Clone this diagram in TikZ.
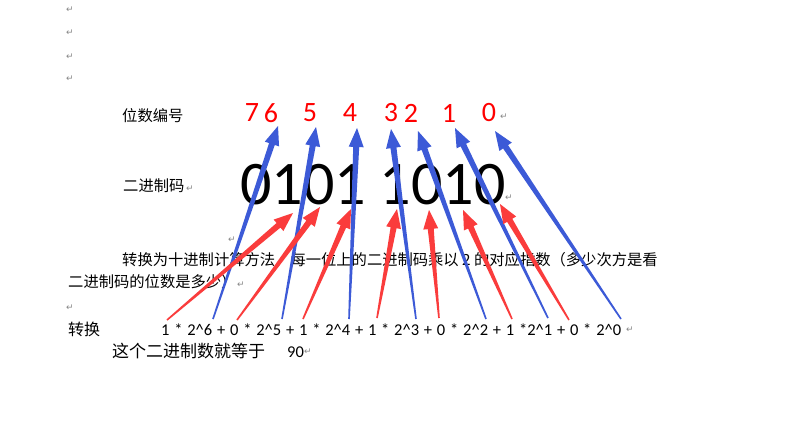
\documentclass[tikz,border=0pt]{standalone}
\usepackage{fontspec}
\setmainfont{Carlito}
\newfontfamily\cjk{Noto Sans CJK SC}
\newfontfamily\dvfont{DejaVu Sans}
\usetikzlibrary{calc}
\definecolor{arrblue}{RGB}{60,90,215}
\definecolor{arrred}{RGB}{250,60,60}
\definecolor{pmark}{RGB}{135,135,135}
\newcommand\mytaper[3]{%
  \coordinate (tmpH) at ($(#2)!19pt!(#1)$);
  \fill[#3] ($(#1)!0.8pt!90:(#2)$) -- ($(tmpH)!3pt!-90:(#1)$) -- ($(tmpH)!7.5pt!-90:(#1)$) -- (#2)
    -- ($(tmpH)!7.5pt!90:(#1)$) -- ($(tmpH)!3pt!90:(#1)$) -- ($(#1)!0.8pt!-90:(#2)$) -- cycle;}
\newcommand\mycaret{\textasciicircum}
\tikzset{
  pm/.style={font=\dvfont\fontsize{9}{9}\selectfont, text=pmark, inner sep=0pt},
  cn/.style={font=\cjk\fontsize{15.3}{18}\selectfont, inner sep=0pt, anchor=west},
  rd/.style={text=red, font=\fontsize{28}{30}\selectfont, inner sep=0pt},
}
\begin{document}
\begin{tikzpicture}[x=1pt,y=-1pt]
\path[fill=white,use as bounding box] (0,0) rectangle (798,447);
% paragraph marks
\node[pm] (p1) at (70,10) {↵};
\node[pm] (p2) at (70,33) {↵};
\node[pm] (p3) at (70,57) {↵};
\node[pm] (p4) at (70,79) {↵};
\node[pm] (p5) at (504,117) {↵};
\node[pm] (p6) at (190,189) {↵};
\node[pm] (p7) at (509,198) {↵};
\node[pm] (p8) at (232,240) {↵};
\node[pm] (p9) at (241,285) {↵};
\node[pm] (p10) at (70,308) {↵};
\node[pm] (p11) at (630,330) {↵};
\node[pm] (p12) at (308,352) {↵};
% labels
\node[cn] (lab1) at (122,116) {位数编号};
\node[cn] (lab2) at (123,186) {二进制码};
% red digit numbers
\node[rd] (d7) at (252,113) {7};
\node[rd] (d6) at (271,113) {6};
\node[rd] (d5) at (310,113) {5};
\node[rd] (d4) at (350,113) {4};
\node[rd] (d3) at (391,113) {3};
\node[rd] (d2) at (411,113) {2};
\node[rd] (d1) at (449,113) {1};
\node[rd] (d0) at (489,113) {0};
% big binary
\node[inner sep=0pt, anchor=west, font=\fontsize{62}{62}\selectfont] (bin) at (240,185) {0101 1010};
% paragraph
\node[cn] (para1) at (122,260) {转换为十进制计算方法，每一位上的二进制码乘以 2 的对应指数（多少次方是看};
\node[cn] (para2) at (68,282) {二进制码的位数是多少）};
\node[cn, font=\cjk\fontsize{16}{18}\selectfont] (conv) at (68,329) {转换};
\node[inner sep=0pt, anchor=west, font=\fontsize{16.5}{18}\selectfont] (form) at (161,330)
  {\spaceskip=4.8pt\relax 1 * 2\mycaret 6 + 0 * 2\mycaret 5 + 1 * 2\mycaret 4 + 1 * 2\mycaret 3 + 0 * 2\mycaret 2 + 1 *2\mycaret 1 + 0 * 2\mycaret 0};
\node[cn, font=\cjk\fontsize{17}{19}\selectfont] (res) at (112,351) {这个二进制数就等于};
\node[inner sep=0pt, anchor=west, font=\fontsize{16.5}{18}\selectfont] (ninety) at (287,352) {90};
% arrow end points
\coordinate (b6s) at (213,319); \coordinate (b6e) at (278,126);
\coordinate (b5s) at (282,319); \coordinate (b5e) at (316,127);
\coordinate (b4s) at (349,319); \coordinate (b4e) at (357,128);
\coordinate (b3s) at (416,319); \coordinate (b3e) at (391,129);
\coordinate (b2s) at (486,319); \coordinate (b2e) at (418,131);
\coordinate (b1s) at (548,318); \coordinate (b1e) at (455,128);
\coordinate (b0s) at (621,319); \coordinate (b0e) at (495,131);
\coordinate (r1s) at (167,320); \coordinate (r1e) at (293,213);
\coordinate (r2s) at (237,320); \coordinate (r2e) at (320,207);
\coordinate (r3s) at (303,319); \coordinate (r3e) at (351,209);
\coordinate (r4s) at (377,318); \coordinate (r4e) at (397,209);
\coordinate (r5s) at (439,318); \coordinate (r5e) at (429,210);
\coordinate (r6s) at (512,319); \coordinate (r6e) at (463,210);
\coordinate (r7s) at (569,320); \coordinate (r7e) at (500,204);
% blue arrows
\mytaper{b6s}{b6e}{arrblue}
\mytaper{b5s}{b5e}{arrblue}
\mytaper{b4s}{b4e}{arrblue}
\mytaper{b3s}{b3e}{arrblue}
\mytaper{b2s}{b2e}{arrblue}
\mytaper{b1s}{b1e}{arrblue}
\mytaper{b0s}{b0e}{arrblue}
% red arrows
\mytaper{r1s}{r1e}{arrred}
\mytaper{r2s}{r2e}{arrred}
\mytaper{r3s}{r3e}{arrred}
\mytaper{r4s}{r4e}{arrred}
\mytaper{r5s}{r5e}{arrred}
\mytaper{r6s}{r6e}{arrred}
\mytaper{r7s}{r7e}{arrred}
\end{tikzpicture}
\end{document}
